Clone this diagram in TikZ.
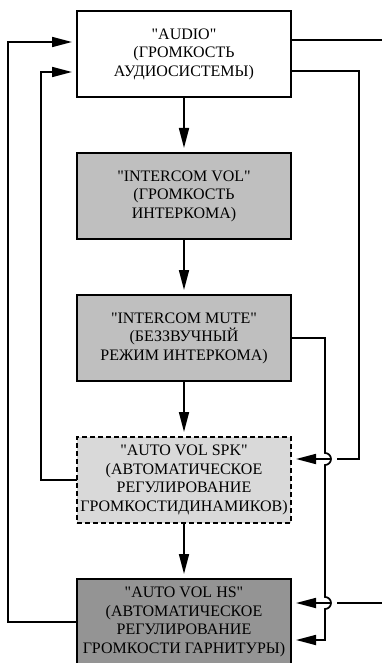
\documentclass[tikz,border=0pt]{standalone}
\usepackage{fontspec}
\setmainfont{Liberation Serif}
\usetikzlibrary{positioning,arrows.meta}

\tikzset{
	block/.style={draw, line width=1.7pt, minimum width=214pt, minimum height=86pt,
		inner sep=2pt, outer sep=0pt, align=center, font=\fontsize{16}{18.5}\selectfont},
	flow/.style={line width=1.7pt, -{Triangle[length=20pt,width=10pt]}, shorten >=5pt},
	wire/.style={line width=1.7pt}
}
\newcommand{\qt}[1]{\textquotedbl#1\textquotedbl}

\begin{document}
\begin{tikzpicture}[x=1pt,y=-1pt]
	\useasboundingbox (0,0) rectangle (382,663);
	
	% blocks, top to bottom
	\node[block, fill=white] (audio) at (184,54)
	{\qt{AUDIO}\\(ГРОМКОСТЬ\\АУДИОСИСТЕМЫ)};
	\node[block, fill=black!25, below=56pt of audio] (icvol)
	{\qt{INTERCOM VOL}\\(ГРОМКОСТЬ\\ИНТЕРКОМА)};
	\node[block, fill=black!25, below=56pt of icvol] (icmute)
	{\qt{INTERCOM MUTE}\\(БЕЗЗВУЧНЫЙ\\РЕЖИМ ИНТЕРКОМА)};
	\node[block, dash pattern=on 5pt off 3pt, fill=black!15, below=56pt of icmute] (avspk)
	{\qt{AUTO VOL SPK}\\(АВТОМАТИЧЕСКОЕ\\РЕГУЛИРОВАНИЕ\\ГРОМКОСТИДИНАМИКОВ)};
	\node[block, fill=black!42, below=56pt of avspk] (avhs)
	{\qt{AUTO VOL HS}\\(АВТОМАТИЧЕСКОЕ\\РЕГУЛИРОВАНИЕ\\ГРОМКОСТИ ГАРНИТУРЫ)};
	
	% main chain
	\draw[flow] (audio) -- (icvol);
	\draw[flow] (icvol) -- (icmute);
	\draw[flow] (icmute) -- (avspk);
	\draw[flow] (avspk) -- (avhs);
	
	% feedback on the left
	\draw[flow] (avhs.west) -- ++(-69,0) |- ([yshift=12pt]audio.west);
	\draw[flow] (avspk.west) -- ++(-36,0) |- ([yshift=-18pt]audio.west);
	
	% outputs and inputs on the right
	\coordinate (outa) at (382,40);
	\coordinate (inhs) at ([yshift=19pt]avhs.east -| 382,0);
	\coordinate (cra) at ([yshift=21pt]avspk.east -| 359,0);
	\draw[wire] ([yshift=14pt]audio.east) -- (outa);
	
	\draw[wire] ([yshift=-17pt]audio.east) -| (cra) -- ++(-22,0);
	\draw[flow] ([xshift=6pt]cra -| 325,0) -- (avspk.east |- cra);
	
	\draw[wire] (inhs) -- ++(-45,0);
	\draw[flow] ([xshift=6pt]inhs -| 325,0) -- (avhs.east |- inhs);
	
	% mute line, hopping at the two crossings
	\draw[flow] (icmute.east) -- (icmute.east -| 325,0) -- ([yshift=6pt]cra -| 325,0)
	arc[start angle=-90, end angle=90, radius=6] -- ([yshift=6pt]inhs -| 325,0)
	arc[start angle=-90, end angle=90, radius=6] |- ([yshift=-18pt]avhs.east);
\end{tikzpicture}
\end{document}
